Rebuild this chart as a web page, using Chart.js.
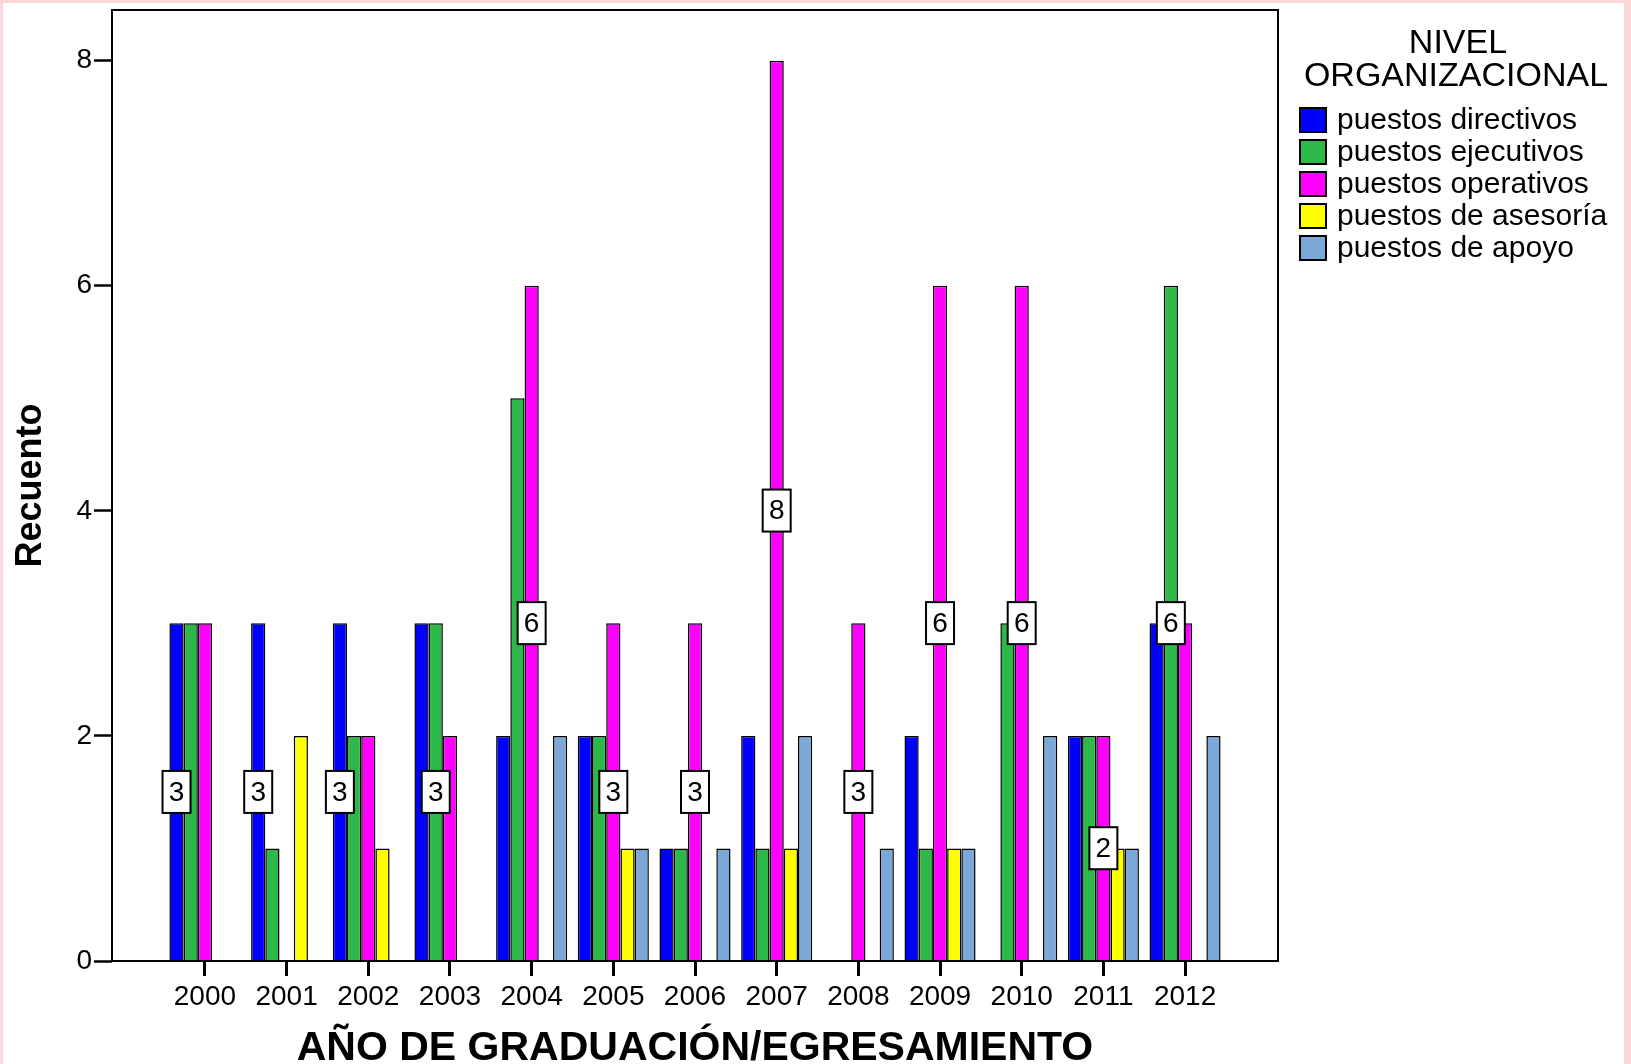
<!DOCTYPE html>
<html>
<head>
<meta charset="utf-8">
<title>Nivel organizacional por año de graduación</title>
<script src="https://cdn.jsdelivr.net/npm/chart.js@4.4.1/dist/chart.umd.min.js"></script>
<style>
  html, body { margin: 0; padding: 0; background: #fcd6d8; }
  #wrap { position: relative; width: 1631px; height: 1064px; }
</style>
</head>
<body>
<div id="wrap"><canvas id="chart" width="1631" height="1064"></canvas></div>
<script>
// ===== datos =====
const years = [2000, 2001, 2002, 2003, 2004, 2005, 2006, 2007, 2008, 2009, 2010, 2011, 2012];
const seriesNames = ["puestos directivos", "puestos ejecutivos", "puestos operativos", "puestos de asesoría", "puestos de apoyo"];
const directivos = [3, 3, 3, 3, 2, 2, 1, 2, 0, 2, 0, 2, 3];
const ejecutivos = [3, 1, 2, 3, 5, 2, 1, 1, 0, 1, 3, 2, 6];
const operativos = [3, 0, 2, 2, 6, 3, 3, 8, 3, 6, 6, 2, 3];
const asesoria   = [0, 2, 1, 0, 0, 1, 0, 1, 0, 1, 0, 1, 0];
const apoyo      = [0, 0, 0, 0, 2, 1, 1, 2, 1, 1, 2, 1, 2];
// which series carries the boxed count label in each year
const labelSeries = [0, 0, 0, 1, 2, 2, 2, 2, 2, 2, 2, 2, 1];
const yTicks = [0, 2, 4, 6, 8];
const legendTitle = ["NIVEL", "ORGANIZACIONAL"];
const xTitle = "AÑO DE GRADUACIÓN/EGRESAMIENTO";
const yTitle = "Recuento";

const colors = ["#0000ff", "#2db84a", "#ff00ff", "#ffff00", "#7ba8d6"];
const FONT = '"Liberation Sans", Arial, sans-serif';

// white sheet with the thin pink border around it
const background = {
  id: "background",
  beforeDraw(chart) {
    const ctx = chart.ctx;
    ctx.save();
    ctx.fillStyle = "#ffffff";
    ctx.fillRect(3, 3, chart.width - 10, chart.height - 3);
    ctx.restore();
  }
};

// frame around the plot + boxed labels
const frameAndLabels = {
  id: "frameAndLabels",
  afterDatasetsDraw(chart) {
    const { ctx, chartArea: a } = chart;
    ctx.save();
    ctx.strokeStyle = "#000";
    ctx.lineWidth = 2;
    ctx.strokeRect(a.left, a.top, a.right - a.left, a.bottom - a.top);

    ctx.font = "28px " + FONT;
    ctx.textAlign = "center";
    ctx.textBaseline = "middle";
    labelSeries.forEach((s, i) => {
      const el = chart.getDatasetMeta(s).data[i];
      const val = chart.data.datasets[s].data[i];
      const cx = el.x, cy = (el.y + el.base) / 2;
      const w = 28, h = 42;
      ctx.fillStyle = "#fff";
      ctx.fillRect(cx - w / 2, cy - h / 2, w, h);
      ctx.lineWidth = 2;
      ctx.strokeRect(cx - w / 2, cy - h / 2, w, h);
      ctx.fillStyle = "#000";
      ctx.fillText(String(val), cx, cy + 1);
    });
    ctx.restore();
  }
};

// legend on the right
const sideLegend = {
  id: "sideLegend",
  afterDraw(chart) {
    const ctx = chart.ctx;
    ctx.save();
    ctx.fillStyle = "#000";
    ctx.textAlign = "center";
    ctx.textBaseline = "middle";
    ctx.font = "34px " + FONT;
    ctx.fillText(legendTitle[0], 1458, 44);
    ctx.fillText(legendTitle[1], 1456, 77);

    ctx.textAlign = "left";
    ctx.font = "30px " + FONT;
    ctx.lineWidth = 2;
    chart.data.datasets.forEach((ds, i) => {
      const y = 120 + i * 32;
      ctx.fillStyle = ds.backgroundColor;
      ctx.fillRect(1300, y - 12, 26, 24);
      ctx.strokeStyle = "#000";
      ctx.strokeRect(1300, y - 12, 26, 24);
      ctx.fillStyle = "#000";
      ctx.fillText(ds.label, 1337, y + 1);
    });
    ctx.restore();
  }
};

const seriesData = [directivos, ejecutivos, operativos, asesoria, apoyo];

new Chart(document.getElementById("chart"), {
  type: "bar",
  data: {
    labels: years,
    datasets: seriesNames.map((name, i) => ({
      label: name,
      data: seriesData[i],
      backgroundColor: colors[i],
      borderColor: "#000",
      borderWidth: (c) => (c.raw ? 1.5 : 0),
      categoryPercentage: 0.87,
      barPercentage: 1.0
    }))
  },
  options: {
    responsive: false,
    animation: false,
    layout: { padding: { top: 10, right: 353, bottom: 0, left: 0 } },
    plugins: {
      legend: { display: false },
      tooltip: { enabled: false }
    },
    scales: {
      x: {
        type: "linear",
        min: 1998.862,
        max: 2013.138,
        offset: false,
        grid: { offset: false, drawOnChartArea: false, drawTicks: true, tickLength: 15, tickWidth: 3, tickColor: "#000" },
        border: { display: false },
        ticks: {
          color: "#000",
          font: { family: FONT, size: 28 },
          padding: 4,
          autoSkip: false,
          maxRotation: 0,
          callback: (v) => String(v)
        },
        afterBuildTicks: (s) => { s.ticks = years.map((v) => ({ value: v })); },
        title: {
          display: true,
          text: xTitle,
          color: "#000",
          font: { family: FONT, size: 41, weight: "bold", lineHeight: 1 },
          padding: { top: 0, bottom: -5 }
        },
        afterFit: (s) => { s.height = 103; s.paddingLeft = 0; s.paddingRight = 0; }
      },
      y: {
        min: 0,
        max: 8.45,
        grid: { drawOnChartArea: false, drawTicks: true, tickLength: 18, tickWidth: 2.5, tickColor: "#000" },
        border: { display: false },
        ticks: {
          color: "#000",
          font: { family: FONT, size: 28 },
          padding: 2,
          includeBounds: false
        },
        afterBuildTicks: (s) => { s.ticks = yTicks.map((v) => ({ value: v })); },
        title: {
          display: true,
          text: yTitle,
          color: "#000",
          font: { family: FONT, size: 36, weight: "bold", lineHeight: 1.2 },
          padding: { top: 9, bottom: 0 }
        },
        afterFit: (s) => { s.width = 112; s.paddingTop = 0; s.paddingBottom = 0; }
      }
    }
  },
  plugins: [background, frameAndLabels, sideLegend]
});
</script>
</body>
</html>
